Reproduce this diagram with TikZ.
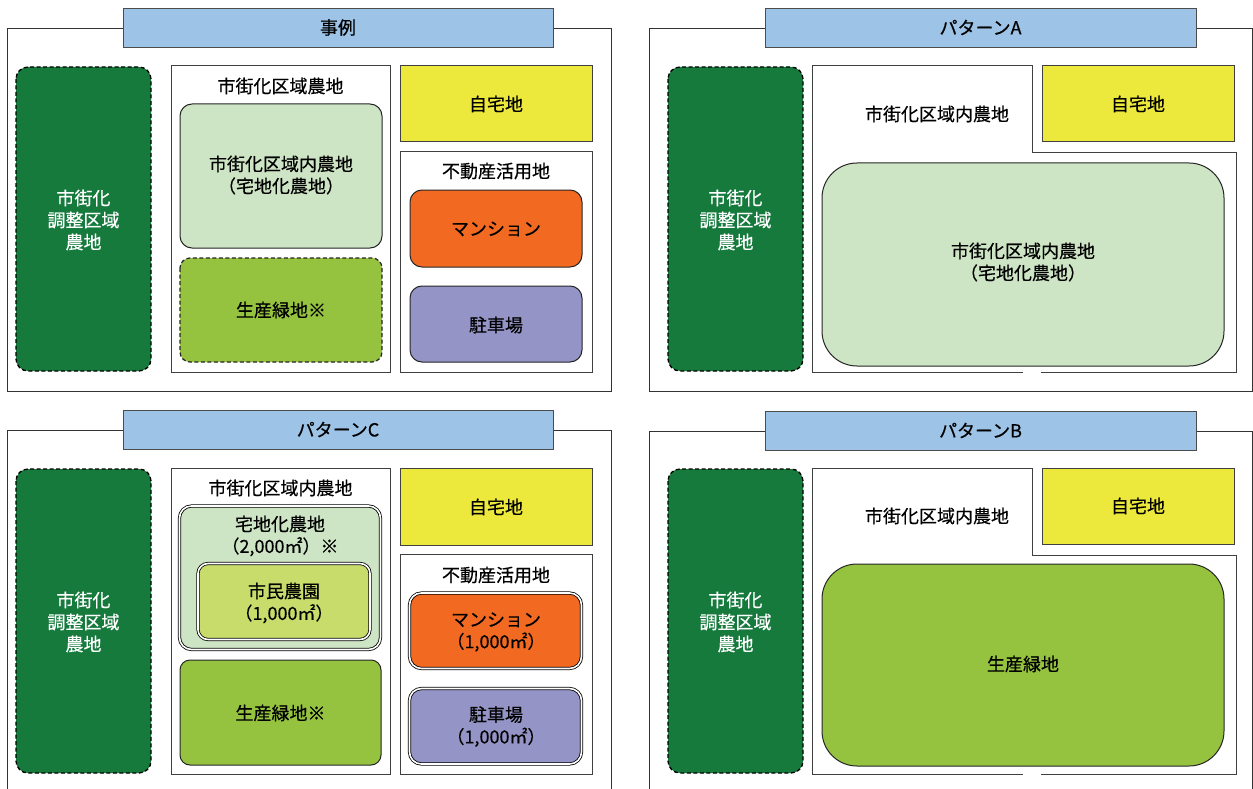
\documentclass[tikz,border=0pt]{standalone}
\usepackage{fontspec}
\setmainfont{Noto Sans CJK JP}[FakeBold=0.4]
\definecolor{titleblue}{HTML}{9DC3E6}
\definecolor{dkgreen}{HTML}{157A3C}
\definecolor{ltgreen}{HTML}{CDE5C4}
\definecolor{prodgreen}{HTML}{95C33F}
\definecolor{homeyellow}{HTML}{EDE93C}
\definecolor{mansion}{HTML}{F26A21}
\definecolor{parking}{HTML}{9494C6}
\definecolor{shimin}{HTML}{C8DC6B}
\begin{document}
\begin{tikzpicture}[x=1pt,y=-1pt,
  panel/.style={draw=black!80,line width=0.9pt},
  titlebar/.style={draw=black!70,fill=titleblue,line width=0.9pt},
  chosei/.style={draw=black,fill=dkgreen,dash pattern=on 4pt off 2.5pt,line width=1.3pt,rounded corners=12pt},
  frame/.style={draw=black!75,fill=white,line width=1pt},
  plainbox/.style={draw=black!75,line width=1pt},
  roundbox/.style={draw=black!85,line width=1pt,rounded corners=12pt},
  dashbox/.style={draw=black!85,dash pattern=on 4pt off 2.5pt,line width=1.2pt,rounded corners=10pt},
  dblbox/.style={draw=black,line width=0.8pt,double=white,double distance=1.6pt,rounded corners=12pt},
  txt/.style={font=\fontsize{18}{22}\selectfont,align=center,inner sep=0pt},
  wtxt/.style={txt,text=white},
]
\clip (0,0) rectangle (1253,789);
\fill[white] (0,0) rectangle (1253,789);

% ===== Panel 事例 =====
\draw[panel] (7,28) rectangle (611,391);
\draw[titlebar] (123,8) rectangle (553,47);
\node[txt] (t1) at (338,27.5) {事例};
\draw[chosei] (16,67) rectangle (151,371);
\node[wtxt] (c1) at (83.5,220) {市街化\\調整区域\\農地};
\draw[frame] (171,66) rectangle (390,372);
\node[txt] (l1) at (280.5,86) {市街化区域農地};
\draw[roundbox,fill=ltgreen] (180,104) rectangle (382,248);
\node[txt] (g1) at (281,175) {市街化区域内農地\\（宅地化農地）};
\draw[dashbox,fill=prodgreen] (180,258) rectangle (382,362);
\node[txt] (p1) at (281,310) {生産緑地※};
\draw[plainbox,fill=homeyellow] (400,66) rectangle (592,142);
\node[txt] (h1) at (496,104) {自宅地};
\draw[frame] (400,152) rectangle (592,372);
\node[txt] (f1) at (496,171) {不動産活用地};
\draw[roundbox,fill=mansion] (410,190) rectangle (582,267);
\node[txt] (m1) at (496,229) {マンション};
\draw[roundbox,fill=parking] (410,286) rectangle (582,362);
\node[txt] (k1) at (496,325) {駐車場};

% ===== Panel A =====
\draw[panel] (649,28) -- (1252,28) -- (1252,391) -- (649,391) -- cycle;
\draw[titlebar] (765,8) rectangle (1196,47);
\node[txt] (tA) at (980.5,27.5) {パターンA};
\draw[chosei] (668,67) rectangle (803,371);
\node[wtxt] (cA) at (735.5,220) {市街化\\調整区域\\農地};
\draw[frame] (812,66) -- (1032,66) -- (1032,153) -- (1236,153) -- (1236,372) -- (812,372) -- cycle;
\draw[white,line width=1.4pt] (1023,372) -- (1041,372);
\node[txt] (lA) at (937,114) {市街化区域内農地};
\draw[plainbox,fill=homeyellow] (1042,66) rectangle (1234,142);
\node[txt] (hA) at (1138,104) {自宅地};
\draw[draw=black!85,line width=1pt,rounded corners=35pt,fill=ltgreen] (822,163) rectangle (1224,366);
\node[txt] (gA) at (1023,262) {市街化区域内農地\\（宅地化農地）};

% ===== Panel C =====
\draw[panel] (7,800) -- (7,430) -- (611,430) -- (611,800);
\draw[titlebar] (123,410) rectangle (553,449);
\node[txt] (tC) at (338,429.5) {パターンC};
\draw[chosei] (16,469) rectangle (151,773);
\node[wtxt] (cC) at (83.5,622) {市街化\\調整区域\\農地};
\draw[frame] (171,468) rectangle (390,774);
\node[txt] (lC) at (280.5,488) {市街化区域内農地};
\draw[dblbox,fill=ltgreen] (179.5,506) rectangle (380.5,649.5);
\node[txt] (gC) at (280,536) {宅地化農地\\（2,000㎡）※};
\draw[dblbox,fill=shimin,rounded corners=10pt] (198,563.5) rectangle (370,639.5);
\node[txt] (sC) at (284,603) {市民農園\\（1,000㎡）};
\draw[roundbox,fill=prodgreen,rounded corners=10pt] (180,660) rectangle (381,765);
\node[txt] (pC) at (280.5,713) {生産緑地※};
\draw[plainbox,fill=homeyellow] (400,468) rectangle (592,545);
\node[txt] (hC) at (496,507) {自宅地};
\draw[frame] (400,554) rectangle (592,774);
\node[txt] (fC) at (496,575) {不動産活用地};
\draw[dblbox,fill=mansion] (409.5,593) rectangle (581.5,668.5);
\node[txt] (mC) at (496,632) {マンション\\（1,000㎡）};
\draw[dblbox,fill=parking] (409.5,688.5) rectangle (581.5,764);
\node[txt] (kC) at (496,726.5) {駐車場\\（1,000㎡）};

% ===== Panel B =====
\draw[panel] (649,800) -- (649,431) -- (1252,431) -- (1252,800);
\draw[titlebar] (765,411) rectangle (1196,450);
\node[txt] (tB) at (980.5,430.5) {パターンB};
\draw[chosei] (668,469) rectangle (803,773);
\node[wtxt] (cB) at (735.5,622) {市街化\\調整区域\\農地};
\draw[frame] (812,468) -- (1032,468) -- (1032,555) -- (1236,555) -- (1236,774) -- (812,774) -- cycle;
\draw[white,line width=1.4pt] (1023,774) -- (1041,774);
\node[txt] (lB) at (937,516) {市街化区域内農地};
\draw[plainbox,fill=homeyellow] (1042,468) rectangle (1234,544);
\node[txt] (hB) at (1138,506) {自宅地};
\draw[draw=black!85,line width=1pt,rounded corners=35pt,fill=prodgreen] (822,564) rectangle (1224,766);
\node[txt] (pB) at (1023,664) {生産緑地};
\end{tikzpicture}
\end{document}
